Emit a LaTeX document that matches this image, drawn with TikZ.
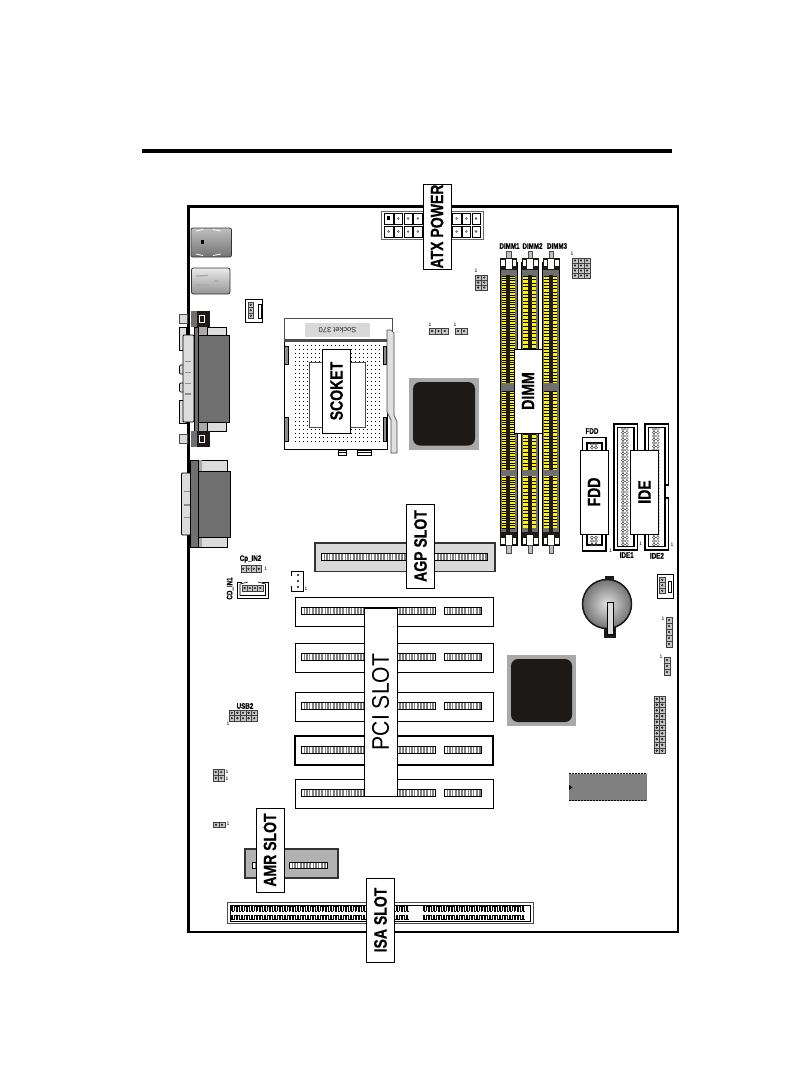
\documentclass[tikz,border=0pt]{standalone}
\usepackage{fontspec}
\setmainfont{Liberation Sans}
\newfontfamily\labfont[FakeStretch=0.78,FakeBold=0.5]{Liberation Sans Bold}
\newfontfamily\pcifont[FakeStretch=0.88]{Liberation Sans}
\usetikzlibrary{positioning, shadings}

\definecolor{chipblack}{HTML}{1C1917}
\definecolor{chipgray}{HTML}{A9A9A9}
\definecolor{bodygray}{HTML}{6F6F6F}
\definecolor{lightgray2}{HTML}{DCDCDC}
\definecolor{dimmyellow}{HTML}{FFF200}

% gray bar with white ticks, for the slots: x1, y1, x2, y2
\newcommand{\slotbar}[4]{
    \fill[black!50] (#1,#2) rectangle (#3,#4);
    \pgfmathtruncatemacro{\nexta}{#1+3}
    \pgfmathtruncatemacro{\nextb}{#1+7}
    \foreach \t in {#1,\nexta,...,#3}
        \draw[white, line width=0.7pt] (\t+1,#2) -- (\t+1,#4);
    \foreach \t in {#1,\nextb,...,#3}
        \draw[white, line width=0.7pt] (\t+2.2,#2) -- (\t+2.2,#4);
    \draw[black, line width=0.8pt] (#1,#2) rectangle (#3,#4);
}
% block of header pins: x, y, columns, rows, cell width, cell height
\newcommand{\hdrblock}[6]{
    \foreach \i in {1,...,#3}
        \foreach \j in {1,...,#4} {
            \draw[black!75, fill=black!22, line width=0.4pt]
                ({#1+(\i-1)*#5},{#2+(\j-1)*#6}) rectangle ++(#5,#6);
            \draw[black, line width=0.4pt] ({#1+(\i-.5)*#5},{#2+(\j-.5)*#6}) circle (0.9);
        }
}
% one memory slot: left edge x, next tick
\newcommand{\dimmslot}[2]{
    \fill[bodygray] (#1,262) rectangle (#1+17,538);
    \fill[dimmyellow] (#1+1.7,276) rectangle (#1+6,528);
    \fill[dimmyellow] (#1+10,276) rectangle (#1+14.5,528);
    \fill[chipblack] (#1+6,268) rectangle (#1+10,533);
    \foreach \t in {276,#2,...,528} {
        \draw[black, line width=0.7pt] (#1+1.7,\t) -- (#1+6,\t);
        \draw[black, line width=0.7pt] (#1+10,\t) -- (#1+14.5,\t);
    }
    \fill[bodygray] (#1,268) rectangle (#1+17,275);
    \fill[bodygray] (#1,383) rectangle (#1+17,391);
    \fill[bodygray] (#1,470) rectangle (#1+17,476);
    \draw[black, line width=1pt] (#1,262) rectangle (#1+17,545);
    % latches and pegs
    \draw[black!70, fill=black!25] (#1+6.2,251) rectangle (#1+10.8,258);
    \draw[black!70, fill=black!25] (#1+6.2,545) rectangle (#1+10.8,553);
    \fill[chipblack] (#1,258) rectangle (#1+17,270);
    \fill[white] (#1+1,260) rectangle (#1+4.5,266);
    \fill[white] (#1+5.5,259) rectangle (#1+11.5,269);
    \fill[white] (#1+12.5,260) rectangle (#1+16,266);
    \fill[chipblack] (#1,532) rectangle (#1+17,545);
    \fill[white] (#1+1,538) rectangle (#1+4.5,544);
    \fill[white] (#1+5.5,535) rectangle (#1+11.5,545);
    \fill[white] (#1+12.5,538) rectangle (#1+16,544);
}

\begin{document}
\begin{tikzpicture}
[
    x=1pt, y=-1pt,
    % The labels are white boxes turned on their side
]

\tikzstyle{lab}    = [draw, fill=white, line width=0.8pt, rotate=90, inner sep=0pt,
                      font=\labfont\fontsize{18}{18}\selectfont]
\tikzstyle{oneno}  = [inner sep=0pt, font=\fontsize{5}{5}\selectfont]
\tikzstyle{hdrlab} = [inner sep=0pt, font=\labfont\fontsize{8}{8}\selectfont]
\tikzstyle{chip}   = [fill=chipblack, rounded corners=7pt]

\useasboundingbox (0,0) rectangle (795,1079);
\fill[white] (0,0) rectangle (795,1079);

%=================================== Board ===================================
\draw[black, line width=4pt] (142,151) -- (672,151);
\draw[black, line width=2.2pt] (188.5,206.5) rectangle (678,932);

{
    % Draw power connector
    \draw[black!60, fill=white, line width=1pt] (381.5,211) rectangle (483.5,239.5);
    \foreach \i in {0,...,9}
        \foreach \y in {213,226} {
            \draw[black, line width=0.5pt] ({384.5+\i*9.7},\y) rectangle ++(8.5,11);
            \draw[black!70, fill=black!30] ({388.7+\i*9.7},\y+5.5) circle (1);
        }
    \fill[black] (386.5,216) rectangle ++(3,3.5);

    % Draw rear ports
    \draw[black!80, rounded corners=2pt, line width=0.8pt, shading angle=120,
          top color=black!25, bottom color=black!55] (191,228) rectangle (231.5,257);
    \fill[black] (200.5,240) rectangle ++(3.5,4);
    \draw[white, line width=0.8pt] (196,231) -- (203,229.5) (213,229.5) -- (221,231)
                                   (196,254) -- (203,255.5) (213,255.5) -- (221,254);
    \draw[black!80, rounded corners=2pt, line width=0.8pt, shading angle=110,
          top color=black!8, bottom color=black!42] (191.5,268) rectangle (230,294);
    \draw[black!35, line width=1.2pt] (196,276) -- (208,275.5) (196,285) -- (209,285) (214,281) -- (219,281);

    % Draw upper I/O connector
    \foreach \y in {327,400}
        \draw[black, fill=lightgray2, line width=0.7pt] (179,\y) rectangle (186,\y+23);
    \foreach \y in {365,383}
        \draw[black, fill=lightgray2, rounded corners=1pt, line width=0.7pt] (179.5,\y) rectangle (184,\y+9);
    \draw[black, fill=lightgray2, line width=0.8pt] (207,327) rectangle (226,431);
    \fill[bodygray!60!white] (198,327) rectangle (207,431);
    \draw[black, fill=lightgray2, rounded corners=1pt, line width=0.8pt] (183,335) rectangle (194,422);
    \foreach \y in {361.7,372.7,383.3,394}
        \fill[black!45] (185,\y-0.7) rectangle ++(5.5,1.4);
    \draw[black, fill=bodygray, line width=0.8pt] (194,327) rectangle (198.5,431);
    \fill[bodygray] (198.5,335) rectangle (229,422);
    \draw[black, line width=1pt] (198.5,335) rectangle (229,422);
    % Draw the two screw blocks
    \foreach \y in {311,431} {
        \draw[black!70, fill=black!15] (179,\y+3) rectangle ++(8,9);
        \fill[chipblack] (190.5,\y) rectangle ++(19.5,15.5);
        \fill[bodygray] (191,\y) rectangle ++(5.5,15.5);
        \draw[white, line width=0.8pt] (199,\y+4) rectangle ++(5,7.5);
    }

    % Draw lower I/O connector
    \draw[black, fill=lightgray2, rounded corners=1pt, line width=0.8pt] (181.5,473) rectangle (191,535);
    \foreach \y in {491.7,505,517.7}
        \fill[black!45] (184,\y-0.7) rectangle ++(6,1.4);
    \draw[black, fill=lightgray2, line width=1pt] (197,460) rectangle (227,547);
    \fill[black!35] (197,460) rectangle (202,547);
    \draw[black, fill=bodygray, line width=0.8pt] (190.5,460) rectangle (198,547);
    \fill[bodygray] (198,471) rectangle (230,537);
    \draw[black, line width=1pt] (198,471) rectangle (230,537);

    % Draw socket
    \draw[black!70, fill=white, line width=0.8pt] (284,318) rectangle (392,339);
    \fill[black!15] (305,323) rectangle (370,337);
    \node[oneno, rotate=180, black!85, font=\fontsize{7.5}{7.5}\selectfont] (socket-name) at (337.5,330) {Socket 370};
    \draw[black, fill=white, line width=0.8pt] (284,339) rectangle (387,449);
    \fill[black!70] (284,339) rectangle (387,342);
    \foreach \x in {295,299,...,381}
        \foreach \y in {345,349,...,441}
            \fill[black] (\x,\y) rectangle ++(0.9,0.9);
    \draw[black!70, fill=white, line width=0.6pt] (309,362) rectangle (365,427);
    \foreach \x/\w in {284.5/3.5, 383/3.5}
        \foreach \y/\h in {346/18, 417/24}
            \draw[black, fill=black!45, line width=0.4pt] (\x,\y) rectangle ++(\w,\h);
    \draw[black!70, fill=black!12, line width=0.7pt]
        (387,330) -- (391,330) -- (394,333) -- (394,415) -- (397,422) -- (397,453) -- (391,453) -- (391,420) -- (387,412) -- cycle;
    \foreach \x/\w in {338/8, 357/14}
        \draw[black, line width=0.6pt] (\x,450) rectangle ++(\w,5.5) (\x,452.5) -- ++(\w,0);

    % Draw the two large chips
    \fill[chipgray] (409,378) rectangle (478.5,450);
    \fill[chip] (413,382) rectangle (475,445.5);
    \fill[chipgray] (507,655) rectangle (576,726);
    \fill[chip] (511,659) rectangle (572,722);

    % Draw memory slots
    \dimmslot{500}{278.4}
    \dimmslot{521.5}{279.6}
    \dimmslot{542.5}{279.2}

    % Draw drive connectors
    \draw[black, line width=1.3pt] (582.5,437.5) rectangle (606,551);
    \draw[black, line width=1.3pt] (587,443) rectangle (602,545);
    \foreach \x/\a/\b in {614/424/550, 645/424/550} {
        \draw[black, line width=1.3pt] (\x,\a) rectangle ++(23.5,\b-\a);
        \draw[black, line width=1.3pt] (\x+3.5,\a+3.5) rectangle ++(16.5,\b-\a-7);
        \foreach \y in {429,432.5,...,546}
            \foreach \c in {9,12.8}
                \draw[black!70, line width=0.4pt] (\x+\c,\y) circle (1.5);
    }
    \fill[white] (666,485) rectangle (670,498);
    \draw[black, line width=1.3pt] (668.5,485) -- (665,485) (665,498) -- (668.5,498);
    \foreach \y in {444,447.5,541,544.5,537.5}
        \foreach \c in {592,596}
            \draw[black!70, line width=0.4pt] (\c,\y) circle (1.5);

    % Draw AGP slot
    \draw[black!80, fill=black!15, line width=1.2pt] (315,543) rectangle (495,571.5);
    \slotbar{321}{553}{487}{560.5}

    % Draw PCI slots
    \foreach \y/\w in {597/0.8, 643/1, 692/1, 736/1.3, 779/0.9} {
        \draw[black, fill=white, line width=\w pt] (295,\y) rectangle (493,\y+29);
        \slotbar{301}{\y+10}{435}{\y+17.5}
        \slotbar{444}{\y+10}{481}{\y+17.5}
    }

    % Draw AMR slot
    \draw[black!80, fill=black!30, line width=1.2pt] (245,849) rectangle (338,878);
    \slotbar{252}{862}{258}{868}
    \slotbar{289}{862}{327}{868}

    % Draw ISA slot
    \draw[black!70, fill=white, line width=0.9pt] (227,902) rectangle (533,923.5);
    \draw[black, line width=0.6pt] (230,905) rectangle (530,921);
    \foreach \x in {231,234.3,...,408,423,426.3,...,525} {
        \draw[black, line width=0.45pt] (\x,911) -- (\x,906.5) -- (\x+1.7,906.5) -- (\x+1.7,911) -- (\x+3.3,911);
        \draw[black, line width=0.45pt] (\x,919.5) -- (\x,915) -- (\x+1.7,915) -- (\x+1.7,919.5) -- (\x+3.3,919.5);
    }

    % Draw battery
    \fill[chipblack] (605,576) rectangle (614,583);
    \fill[chipblack] (604,627) rectangle (616,638);
    \draw[chipblack, line width=1.5pt, inner color=black!12, outer color=black!55] (607,604) circle (24.5);
    \draw[black, fill=lightgray2, line width=0.6pt] (607,602) rectangle (613.5,634);

    % Draw BIOS chip
    \fill[black!50] (569,773.5) rectangle (647,801);
    \draw[black, line width=1.5pt, dash pattern=on 2pt off 1pt] (569,773.5) -- (647,773.5);
    \draw[black, line width=1.5pt, dash pattern=on 2pt off 1pt] (569,800.5) -- (647,800.5);
    \fill[black] (569,785) -- (572.5,787.5) -- (569,790) -- cycle;

    % Draw fan connectors
    \draw[black, line width=0.8pt] (245,299) rectangle (262.5,322);
    \hdrblock{248}{302}{1}{3}{5.5}{5.5}
    \draw[black, line width=0.6pt] (258,304) rectangle (261,318);
    \draw[black, line width=1pt] (291,571) -- (303,571) -- (303,591) -- (291,591);
    \draw[black, line width=1pt] (291,571) -- (291,576) (291,586) -- (291,591);
    \foreach \y in {575,581,587}
        \fill[black!70] (297,\y-1) rectangle ++(2,2);
    \draw[black, line width=1pt] (657,574) rectangle (673,598);
    \hdrblock{659.5}{577}{1}{3}{5.5}{5.5}
    \draw[black, line width=0.6pt] (668,581) rectangle (671,592);

    % Draw CD connectors
    \hdrblock{240.7}{565.5}{4}{1}{5.2}{6.5}
    \draw[black, line width=0.8pt] (242,582) -- (237.5,582) -- (237.5,598) -- (268,598) -- (268,582) -- (262,582);
    \draw[black, line width=0.6pt] (248,582) -- (240,584) (240,584) -- (240,595.5) -- (265.5,595.5) -- (265.5,584) -- (258,582);
    \hdrblock{242}{585}{4}{1}{5.2}{6}

    % Draw the small headers
    \hdrblock{475}{275}{2}{3}{6.2}{5}
    \hdrblock{429}{328}{3}{1}{6.3}{6}
    \hdrblock{455}{328}{2}{1}{6}{6}
    \hdrblock{572}{258}{3}{4}{6}{5}
    \hdrblock{229}{710}{5}{2}{5.6}{5.5}
    \hdrblock{213}{769}{2}{2}{5.5}{6}
    \hdrblock{213}{822}{2}{1}{6}{5.5}
    \hdrblock{666}{617}{1}{5}{6}{6}
    \hdrblock{664}{657}{1}{3}{6}{6}
    \hdrblock{654}{696}{2}{10}{5.5}{5.75}

    % Draw the little marks
    \foreach \n/\x/\y in {a/476/271, b/430/325, c/455/325, d/572/254, e/265.7/569, f/306/589,
                          g/228/724, h/227/772, i/227/779, j/228/824, k/663/619, l/661/657,
                          m/610.7/551, n/640.7/544, o/672/545}
        \node[oneno] (mark-\n) at (\x,\y) {1};

    % Draw the small names
    \foreach \n/\x/\y/\t in {dimm-a/509.5/246/DIMM1, dimm-b/532.5/246/DIMM2, dimm-c/557/246/DIMM3,
                             fdd/592/431/FDD, ide-a/626.7/555/IDE1, ide-b/657/555.7/IDE2,
                             cp/250.5/559/Cp\_IN2, usb/245/706/USB2}
        \node[hdrlab] (hdr-\n) at (\x,\y) {\t};
    \node[hdrlab, rotate=90] (hdr-cd) at (230,588.5) {CD\_IN1};

    % Draw the large labels
    \node[lab, minimum width=85pt, minimum height=28pt] (atx) at (437,226.5) {ATX POWER};
    \node[lab, minimum width=84pt, minimum height=28pt] (scoket) at (336.5,391) {SCOKET};
    \node[lab, minimum width=84pt, minimum height=28pt] (dimm) at (528,391) {DIMM};
    \node[lab, minimum width=84pt, minimum height=28pt] (fdd) at (594,492) {FDD};
    \node[lab, minimum width=84pt, minimum height=28.5pt] (ide) at (644.5,492) {IDE};
    \node[lab, minimum width=84pt, minimum height=28.5pt] (agp) at (420.5,546) {AGP SLOT};
    \node[lab, minimum width=188pt, minimum height=33pt,
          font=\pcifont\fontsize{24}{24}\selectfont] (pci) at (380.5,702) {PCI SLOT};
    \node[lab, minimum width=84pt, minimum height=28pt] (amr) at (270,850) {AMR SLOT};
    \node[lab, minimum width=84pt, minimum height=28.5pt] (isa) at (380.5,920) {ISA SLOT};
}
%==================================== END ====================================

\end{tikzpicture}
\end{document}
